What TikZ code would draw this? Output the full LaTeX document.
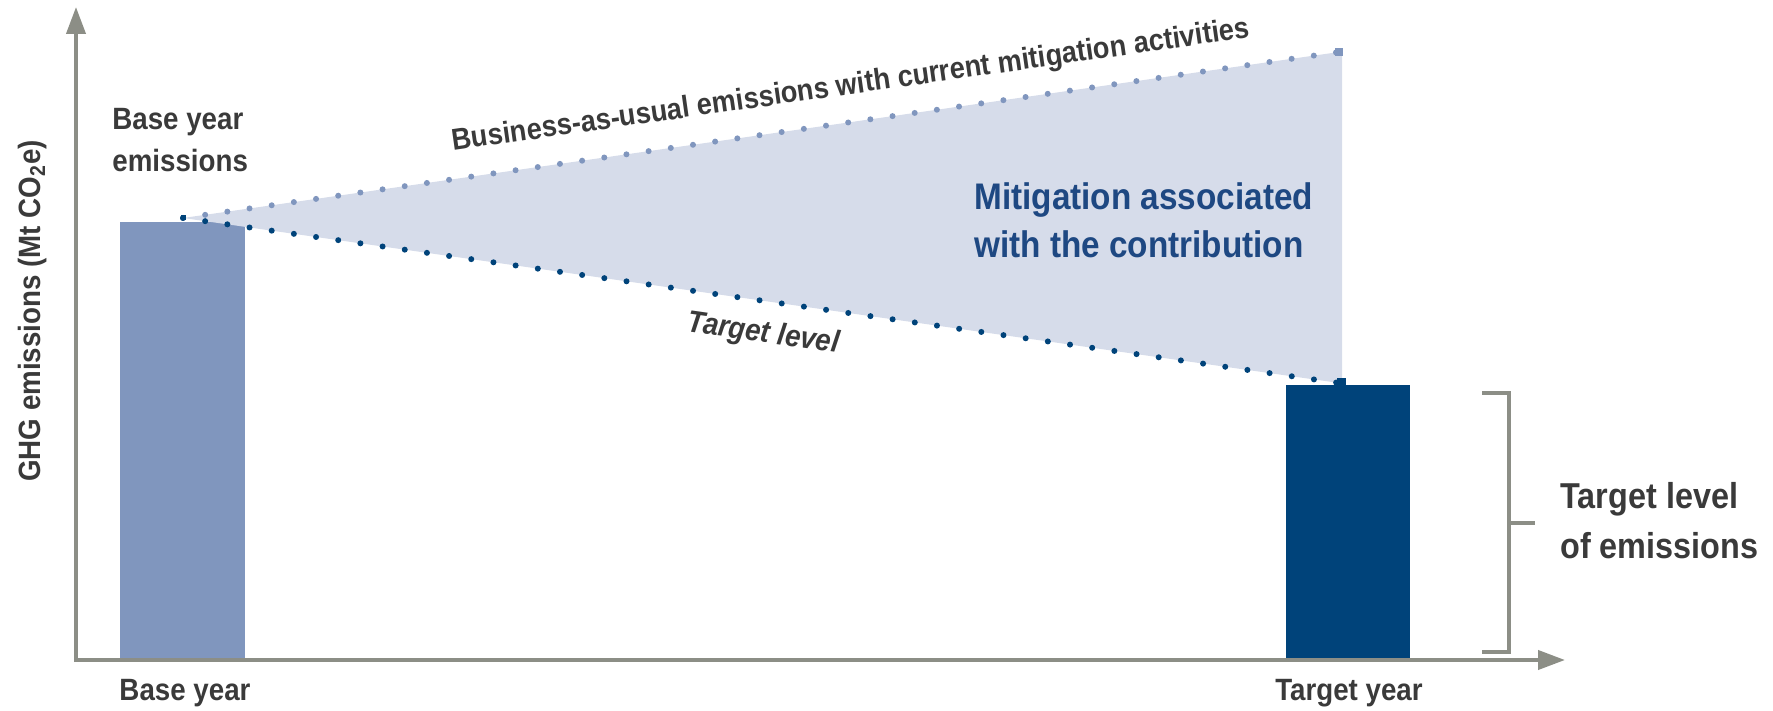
\documentclass[tikz,border=0pt]{standalone}
\usepackage{fontspec}
\setmainfont[FakeStretch=0.9]{Liberation Sans}
\usetikzlibrary{arrows.meta}
\definecolor{axisgray}{RGB}{140,142,134}
\definecolor{txtgray}{RGB}{58,58,58}
\definecolor{basebar}{RGB}{128,150,190}
\definecolor{targetbar}{RGB}{0,67,122}
\definecolor{shadecol}{RGB}{214,220,234}
\definecolor{mitblue}{RGB}{30,72,130}
\begin{document}
\begin{tikzpicture}[x=0.5pt,y=-0.5pt,
  lbl/.style={font=\bfseries\fontsize{15.4}{18}\selectfont, text=txtgray, inner sep=0pt},
  lblit/.style={font=\bfseries\itshape\fontsize{15.4}{18}\selectfont, text=txtgray, inner sep=0pt},
  biglbl/.style={font=\bfseries\fontsize{18.5}{22}\selectfont, text=txtgray, inner sep=0pt},
  axisline/.style={draw=axisgray, line width=2pt, -{Triangle[length=13.5pt,width=9.5pt]}},
  bracketline/.style={draw=axisgray, line width=1.75pt},
  dotline/.style={line width=3pt, line cap=round, dash pattern=on 0pt off 11.2pt},
  barbox/.style={inner sep=0pt, outer sep=0pt, anchor=south west},
  marker/.style={inner sep=0pt, outer sep=0pt}
]
\useasboundingbox (0,0) rectangle (1773,711);

% coordinates
\coordinate (O) at (76,660);
\coordinate (ytip) at (76,7);
\coordinate (xtip) at (1565,660);
\coordinate (S) at (183,218);
\coordinate (B) at (1339,52);
\coordinate (T) at (1339,383);
\coordinate (BR) at (1342,50);
\coordinate (TR) at (1342,385);

% bars
\node[barbox, fill=basebar, minimum width=62.5pt, minimum height=218pt] (basebar) at (120,658) {};
\node[barbox, fill=targetbar, minimum width=62pt, minimum height=136.5pt] (targetbar) at (1286,658) {};

% shaded mitigation area
\fill[shadecol] (S) -- (B) -- (BR) -- (TR) -- (T) -- cycle;

% dotted lines
\draw[dotline, draw=basebar] (S) -- (B);
\draw[dotline, draw=targetbar] (S) -- (T);

% end markers
\node[marker, fill=basebar, minimum size=4pt] (bsq) at (B) {};
\node[marker, fill=targetbar, minimum width=4.5pt, minimum height=3.5pt] (tsq) at (1341.5,381.5) {};
\node[marker, fill=targetbar, minimum size=2.5pt] (ssq) at (S) {};

% axes
\draw[axisline] ([yshift=-1pt]O) -- (ytip);
\draw[axisline] ([xshift=-1pt]O) -- (xtip);

% bracket
\coordinate (k1) at (1482,393);
\coordinate (k2) at (1509,393);
\coordinate (k3) at (1509,652);
\coordinate (k4) at (1482,652);
\coordinate (km) at (1509,523);
\coordinate (kt) at (1535,523);
\draw[bracketline] (k1) -- (k2) -- (k3) -- (k4);
\draw[bracketline] (km) -- (kt);

% texts
\node[lbl, anchor=base west] (bye1) at (112,130) {Base year};
\node[lbl, anchor=base west] (bye2) at (112,172) {emissions};
\node[lbl, anchor=base] (by) at (185,700) {Base year};
\node[lbl, anchor=base] (ty) at (1349,700) {Target year};
\node[lbl, anchor=base, rotate=90] (ylab) at (40,311) {GHG emissions (Mt CO\textsubscript{2}e)};
\node[lbl, font=\bfseries\fontsize{15.1}{18}\selectfont, anchor=base, rotate=8.1] (baulab) at (852,94) {Business-as-usual emissions with current mitigation activities};
\node[lblit, anchor=base, rotate=-8.2] (tlab) at (762,342) {Target level};
\node[biglbl, text=mitblue, anchor=base west] (mit1) at (974,210) {Mitigation associated};
\node[biglbl, text=mitblue, anchor=base west] (mit2) at (974,258) {with the contribution};
\node[biglbl, font=\bfseries\fontsize{18}{22}\selectfont, anchor=base west] (tle1) at (1560,508) {Target level};
\node[biglbl, font=\bfseries\fontsize{18}{22}\selectfont, anchor=base west] (tle2) at (1560,558) {of emissions};
\end{tikzpicture}
\end{document}
